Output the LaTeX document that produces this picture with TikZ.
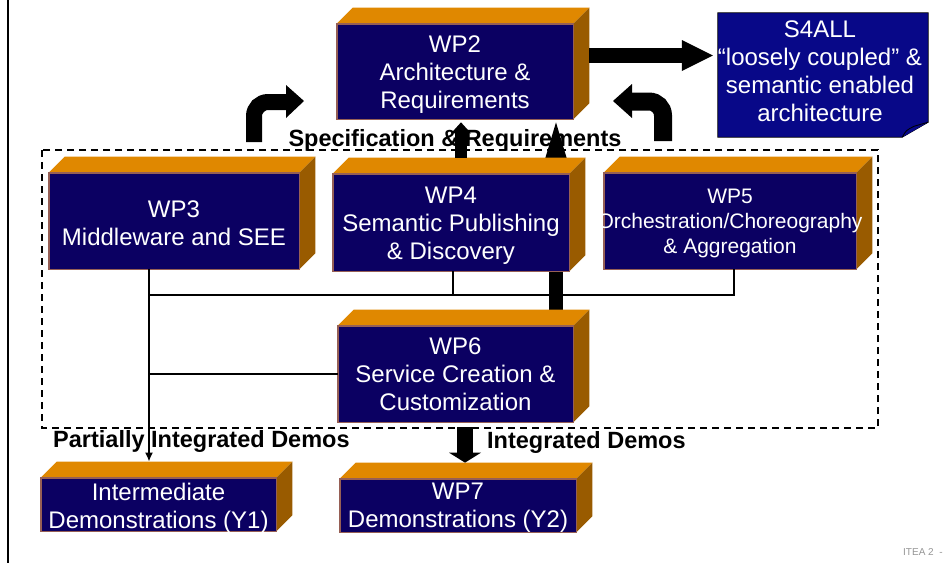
\documentclass[tikz,border=0pt]{standalone}
\usepackage{fontspec}
\setmainfont{Liberation Sans}
\usetikzlibrary{arrows.meta}
\pgfdeclarelayer{background}
\pgfsetlayers{background,main}
\definecolor{navy}{RGB}{11,0,98}
\definecolor{topor}{RGB}{224,136,0}
\definecolor{sideor}{RGB}{153,91,0}
\definecolor{edgec}{RGB}{150,95,85}
\definecolor{s4blue}{RGB}{8,8,136}
\definecolor{itea}{RGB}{150,150,150}
\newcommand\drawcube[1]{%
  \fill[topor] (#1.north west) -- ([shift={(16,-16)}]#1.north west) -- ([shift={(16,-16)}]#1.north east) -- (#1.north east) -- cycle;
  \fill[sideor] (#1.north east) -- ([shift={(16,-16)}]#1.north east) -- ([shift={(16,-16)}]#1.south east) -- (#1.south east) -- cycle;
  \draw[edgec, line width=0.7pt] (#1.south west) rectangle (#1.north east);
}
\begin{document}
\begin{tikzpicture}[x=1pt,y=-1pt,
  wpbox/.style={draw=edgec, line width=0.7pt, fill=navy, inner sep=0pt},
  boxtxt/.style={text=white, align=center, inner sep=0pt, font=\fontsize{24}{28}\selectfont},
  lbl/.style={font=\bfseries\fontsize{23.5}{28}\selectfont, inner sep=0pt},
  conn/.style={line width=2.4pt, black},
  grpline/.style={line width=1.6pt, dash pattern=on 7pt off 5pt}
]
\useasboundingbox (0,0) rectangle (951,563);
\begin{pgfonlayer}{background}
  \fill[white] (0,0) rectangle (951,563);
\end{pgfonlayer}
% left border line
\draw[line width=2pt] (8,0) -- (8,563);
% dashed group frame
\draw[grpline] (42,150) rectangle (878,428);

% boxes (front faces)
\node[wpbox, minimum width=236pt, minimum height=95pt] (wp2) at (455,71.5) {};
\node[wpbox, minimum width=250pt, minimum height=96pt] (wp3) at (174,221) {};
\node[wpbox, minimum width=236pt, minimum height=97pt] (wp4) at (451,222.5) {};
\node[wpbox, minimum width=252pt, minimum height=96pt] (wp5) at (730,221) {};
\node[wpbox, minimum width=235pt, minimum height=96pt] (wp6) at (455.5,374) {};
\node[wpbox, minimum width=235pt, minimum height=53pt] (int) at (158.5,504.5) {};
\node[wpbox, minimum width=236pt, minimum height=53pt] (wp7) at (458,505.5) {};
\drawcube{wp2}
\drawcube{wp3}
\drawcube{wp4}
\drawcube{wp5}
\drawcube{wp6}
\drawcube{int}
\drawcube{wp7}

% S4ALL note
\node[inner sep=0pt, minimum width=210pt, minimum height=124pt] (s4) at (823,75) {};
\draw[fill=s4blue, line width=0.8pt] (s4.north west) -- (s4.north east) -- ([yshift=15pt]s4.south east) -- ([xshift=-26pt]s4.south east) -- (s4.south west) -- cycle;
\draw[fill=s4blue, line width=0.8pt] ([xshift=-26pt]s4.south east) .. controls ([shift={(-22,-7)}]s4.south east) .. ([shift={(-14,-11)}]s4.south east) -- ([yshift=15pt]s4.south east);

% texts in boxes
\node[boxtxt] (wp2t) at ([yshift=-3.5pt]wp2.center) {WP2\\Architecture \&\\Requirements};
\node[boxtxt] (wp3t) at ([yshift=-2pt]wp3.center) {WP3\\Middleware and SEE};
\node[boxtxt] (wp4t) at ([yshift=-3pt]wp4.center) {WP4\\Semantic Publishing\\\& Discovery};
\node[boxtxt, font=\fontsize{21}{25}\selectfont] (wp5t) at ([yshift=-2pt]wp5.center) {WP5\\Orchestration/Choreography\\\& Aggregation};
\node[boxtxt] (wp6t) at ([yshift=-0.5pt]wp6.center) {WP6\\Service Creation \&\\Customization};
\node[boxtxt] (intt) at ([yshift=-3.5pt]int.center) {Intermediate\\Demonstrations (Y1)};
\node[boxtxt] (wp7t) at ([yshift=-2pt]wp7.center) {WP7\\Demonstrations (Y2)};
\node[boxtxt] (s4t) at (820,71) {S4ALL\\“loosely coupled” \&\\semantic enabled\\architecture};

% thick arrows
\begin{pgfonlayer}{background}
  % WP6 -> WP2 (passes behind WP4)
  \coordinate (s2) at ([xshift=100.5pt,yshift=16pt]wp6.north);
  \coordinate (t2) at (s2 |- wp2.south);
  \fill ([xshift=-7pt]s2) rectangle ([shift={(7,43)}]t2);
  \fill ([shift={(-12,43)}]t2) -- ([yshift=-3pt]t2) -- ([shift={(12,43)}]t2) -- cycle;
\end{pgfonlayer}
% WP4 -> WP2
\coordinate (s1) at ([xshift=10pt,yshift=16pt]wp4.north);
\coordinate (t1) at (s1 |- wp2.south);
\fill ([xshift=-6pt]s1) rectangle ([shift={(6,14)}]t1);
\fill ([shift={(-10,14)}]t1) -- ([yshift=-3pt]t1) -- ([shift={(10,14)}]t1) -- cycle;
% WP2 -> S4ALL
\coordinate (a4) at ([shift={(16,-16)}]wp2.east);
\coordinate (t4) at (a4 -| s4.west);
\fill ([yshift=7.5pt]a4) rectangle ([shift={(-36,7.5)}]t4);
\fill ([shift={(-36,-15.5)}]t4) -- ([xshift=-5pt]t4) -- ([shift={(-36,15.5)}]t4) -- cycle;
% WP6 -> WP7
\coordinate (s3) at ([xshift=9.5pt,yshift=-5pt]wp6.south);
\coordinate (w7top) at ([yshift=16pt]wp7.north);
\coordinate (t3) at (s3 |- w7top);
\fill ([xshift=-8pt]s3) rectangle ([shift={(8,-10)}]t3);
\fill ([shift={(-16,-10)}]t3) -- (t3) -- ([shift={(16,-10)}]t3) -- cycle;

% curved arrows
\coordinate (c1s) at (254,142);
\coordinate (c1e) at (287,102);
\draw[line width=16pt, rounded corners=14pt] (c1s) |- (c1e);
\fill (286,85) -- (304,101) -- (286,118) -- cycle;
\coordinate (c2s) at (663,141);
\coordinate (c2e) at (631,101.5);
\draw[line width=18pt, rounded corners=14pt] (c2s) |- (c2e);
\fill (632,84) -- (613,101) -- (632,118) -- cycle;

% thin connectors
\coordinate (v) at ([xshift=-25pt]wp3.south);
\coordinate (it) at ([yshift=16pt]int.north);
\coordinate (bus) at (0,295);
\coordinate (b5) at ([xshift=4pt]wp5.south);
\coordinate (b4) at ([xshift=2pt]wp4.south);
\draw[conn, -{Latex[length=9pt,width=8pt]}] (v) -- (v |- it);
\draw[conn] (v |- bus) -- (b5 |- bus) -- (b5);
\draw[conn] (b4) -- (b4 |- bus);
\draw[conn] (wp6.west) -- (v |- wp6.west);

% labels
\node[lbl, anchor=base] (spec) at (455,146) {Specification \& Requirements};
\node[lbl, anchor=base west] (pid) at (53,447) {Partially Integrated Demos};
\node[lbl, anchor=base west] (idm) at (487,448) {Integrated Demos};
\node[anchor=base west, inner sep=0pt, text=itea, font=\fontsize{10}{12}\selectfont] (iteat) at (903,555) {ITEA 2\ \ -};
\end{tikzpicture}
\end{document}
